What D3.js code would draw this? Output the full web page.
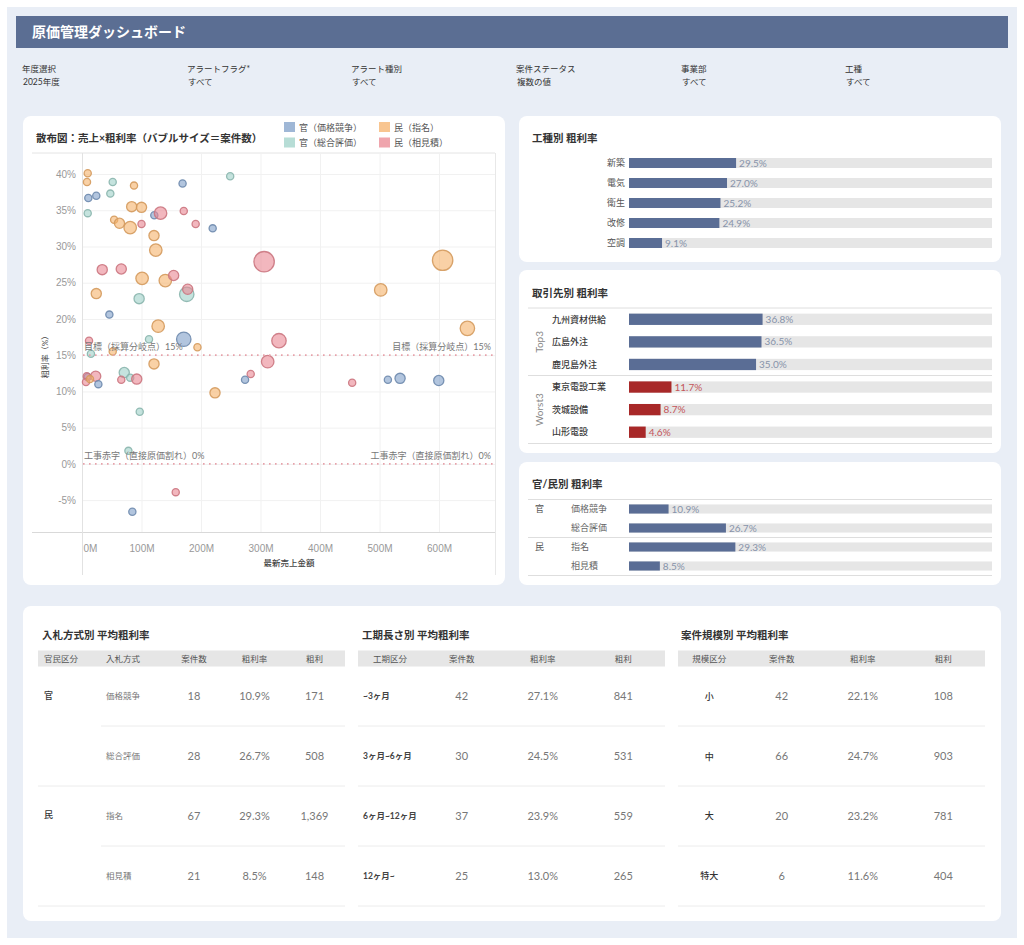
<!DOCTYPE html>
<html><head><meta charset="utf-8">
<script src="https://cdn.jsdelivr.net/npm/d3@7"></script>
<style>
body{margin:0;background:#fff;}
svg{display:block;font-family:Lato,"Noto Sans CJK JP",sans-serif;}
</style></head><body>
<svg id="c" width="1024" height="945"></svg>
<script>
// ---------- DATA ----------
const dashboardTitle = '原価管理ダッシュボード';
const filterLabels = ['年度選択','アラートフラグ*','アラート種別','案件ステータス','事業部','工種'];
const filterValues = ['2025年度','すべて','すべて','複数の値','すべて','すべて'];

const segments = ['官（価格競争）','官（総合評価）','民（指名）','民（相見積）'];
const segColors = ['#7f9fc8','#9fd1c8','#f5b26b','#ea8792'];
const salesM =    [9.6,8.4,51.6,87.4,169,249,10.6,24,47.6,9.6,83.5,100,121.5,132,171,54,63,81,100,191,219.6,121,124,306,34,66,101,140,154,176,177.6,24,96,46,128,112.6,171,331,194,11.8,15,51.6,121,312,283.5,274,9.6,8,23,6.7,13.4,27.5,71,81,66,92,223.5,97,78,157.5,84.6,454,514,534.5,599.5,606,502,647.6];
const marginPct = [40.1,38.9,38.9,38.4,38.7,39.7,36.7,37.0,37.3,34.6,35.5,35.4,34.3,34.6,34.9,33.7,33.2,32.6,33.1,33.1,32.5,31.5,29.5,27.9,26.8,26.9,25.6,25.3,26.0,23.4,24.1,23.5,22.8,20.6,19.0,17.2,17.2,17.0,16.1,17.0,15.2,15.5,13.8,14.1,12.4,11.6,12.0,12.1,12.1,11.3,11.7,11.0,12.6,11.9,11.6,11.7,9.8,7.2,1.8,-3.9,-6.6,11.2,11.6,11.8,11.5,28.1,24.0,18.7];
const segIdx =    [2,2,1,2,0,1,0,0,1,1,2,2,0,3,3,2,2,2,3,3,0,2,2,3,3,3,2,2,3,1,3,2,1,0,2,1,0,3,2,3,1,2,2,3,3,0,0,3,3,3,2,0,1,1,3,3,2,1,1,3,0,3,0,0,0,2,2,2];
const caseCounts= [1,1,1,1,1,1,1,1,1,1,2,2,1,3,1,1,2,3,1,1,1,2,3,8,2,2,3,3,2,4,2,2,2,1,3,1,4,4,1,1,1,1,2,3,1,1,1,1,2,1,1,1,2,1,1,2,2,1,1,1,1,1,1,2,2,8,3,4];
const xTicks = [0,100,200,300,400,500,600];
const yTicks = [-5,0,5,10,15,20,25,30,35,40];
const refValues = [15,0];
const refLabels = ['目標（採算分岐点）','工事赤字（直接原価割れ）'];

const workTypes = ['新築','電気','衛生','改修','空調'];
const workRates = [29.5,27.0,25.2,24.9,9.1];

const partnerGroups = ['Top3','Worst3'];
const partnerNames = ['九州資材供給','広島外注','鹿児島外注','東京電設工業','茨城設備','山形電設'];
const partnerRates = [36.8,36.5,35.0,11.7,8.7,4.6];
const partnerGroupIdx = [0,0,0,1,1,1];

const sectorGroups = ['官','民'];
const bidMethods = ['価格競争','総合評価','指名','相見積'];
const bidRates = [10.9,26.7,29.3,8.5];
const bidGroupIdx = [0,0,1,1];
const bidCounts = [18,28,67,21];
const bidProfit = [171,508,1369,148];

const periodLabels = ['~3ヶ月','3ヶ月~6ヶ月','6ヶ月~12ヶ月','12ヶ月~'];
const periodCounts = [42,30,37,25];
const periodRates = [27.1,24.5,23.9,13.0];
const periodProfit = [841,531,559,265];

const sizeLabels = ['小','中','大','特大'];
const sizeCounts = [42,66,20,6];
const sizeRates = [22.1,24.7,23.2,11.6];
const sizeProfit = [108,903,781,404];

const table1Headers = ['官民区分','入札方式','案件数','粗利率','粗利'];
const table2Headers = ['工期区分','案件数','粗利率','粗利'];
const table3Headers = ['規模区分','案件数','粗利率','粗利'];

// ---------- DRAW ----------
const svg = d3.select('#c');
const fmtPct = d => d.toFixed(1) + '%';
const fmtNum = d3.format(',');

svg.append('rect').attr('x',7).attr('y',7).attr('width',1010).attr('height',931).attr('fill','#e9eef6');
svg.append('rect').attr('x',16).attr('y',16).attr('width',992).attr('height',32).attr('fill','#5b6e93');
svg.append('text').attr('x',32).attr('y',37).attr('fill','#fff').attr('font-size',14).attr('font-weight',700).text(dashboardTitle);

const fx = [22,187,351,516,681,845];
filterLabels.forEach((l,i)=>{
  svg.append('text').attr('x',fx[i]).attr('y',72).attr('font-size',8.5).attr('fill','#333').text(l);
  svg.append('text').attr('x',fx[i]+1).attr('y',85).attr('font-size',8.5).attr('fill','#333').text(filterValues[i]);
});

// panels
const panels = [[23,116,482,469],[519,116,482,146],[519,270,482,183],[519,462,482,123],[23,606,978,315]];
panels.forEach(p=>svg.append('rect').attr('x',p[0]).attr('y',p[1]).attr('width',p[2]).attr('height',p[3]).attr('rx',8).attr('fill','#fff'));

// ---------- SCATTER ----------
const sg = svg.append('g');
sg.append('text').attr('x',36).attr('y',142).attr('font-size',10.5).attr('font-weight',700).attr('fill','#333')
  .text('散布図：売上×粗利率（バブルサイズ＝案件数）');
segments.forEach((s,i)=>{
  const lx = i<2 ? 284 : 379, ly = i%2===0 ? 122 : 137.5;
  sg.append('rect').attr('x',lx).attr('y',ly).attr('width',11).attr('height',10).attr('fill',segColors[i]).attr('opacity',0.75);
  sg.append('text').attr('x',lx+15).attr('y',ly+8.5).attr('font-size',9).attr('fill','#555').text(s);
});

const x = d3.scaleLinear().domain([0,694]).range([82,495]);
const y = d3.scaleLinear().domain([-9.4,42.9]).range([532,153]);
const r = d3.scaleSqrt().domain([0,8]).range([0,10.2]);

sg.append('line').attr('x1',32).attr('x2',495).attr('y1',153).attr('y2',153).attr('stroke','#e4e4e4');
sg.append('g').attr('transform','translate(0,532)')
  .call(d3.axisBottom(x).tickValues(xTicks).tickSize(-379).tickFormat(''))
  .call(g=>{g.select('.domain').remove(); g.selectAll('line').attr('stroke','#f1f1f1');});
sg.append('g').attr('transform','translate(82,0)')
  .call(d3.axisLeft(y).tickValues(yTicks).tickSize(-413).tickFormat(''))
  .call(g=>{g.select('.domain').remove(); g.selectAll('line').attr('stroke','#f1f1f1');});
sg.append('line').attr('x1',32).attr('x2',495).attr('y1',532.5).attr('y2',532.5).attr('stroke','#d9d9d9');
sg.append('line').attr('x1',82.5).attr('x2',82.5).attr('y1',153).attr('y2',575).attr('stroke','#e2e2e2');
sg.append('line').attr('x1',495.5).attr('x2',495.5).attr('y1',153).attr('y2',575).attr('stroke','#e8e8e8');

const xa = sg.append('g').attr('transform','translate(0,545)')
  .call(d3.axisBottom(x).tickValues(xTicks).tickSize(0).tickFormat(d=>d+'M'))
  .call(g=>{g.select('.domain').remove(); g.selectAll('text').attr('font-size',10).attr('fill','#999').attr('font-family',null).attr('dy','0.35em');});
xa.selectAll('.tick').filter(d=>d===0).select('text').attr('text-anchor','start').attr('x',1);
sg.append('g').attr('transform','translate(76,0)')
  .call(d3.axisLeft(y).tickValues(yTicks).tickSize(0).tickPadding(0).tickFormat(d=>d+'%'))
  .call(g=>{g.select('.domain').remove(); g.selectAll('text').attr('font-size',10).attr('fill','#999').attr('font-family',null);});
sg.append('text').attr('transform','translate(48,355) rotate(-90)').attr('text-anchor','middle').attr('font-size',8).attr('fill','#444').text('粗利率（%）');
sg.append('text').attr('x',289).attr('y',566).attr('text-anchor','middle').attr('font-size',8.5).attr('font-weight',500).attr('fill','#444').text('最新売上金額');

const pts = salesM.map((v,i)=>({v, p:marginPct[i], s:segIdx[i], n:caseCounts[i]}));
sg.append('g').selectAll('circle').data(pts).join('circle')
  .attr('cx',d=>x(d.v)).attr('cy',d=>y(d.p)).attr('r',d=>r(d.n))
  .attr('fill',d=>segColors[d.s]).attr('fill-opacity',0.6)
  .attr('stroke',d=>d3.color(segColors[d.s]).darker(0.4)).attr('stroke-opacity',0.9).attr('stroke-width',1.3);

refValues.forEach((rv,i)=>{
  sg.append('line').attr('x1',83).attr('x2',495).attr('y1',y(rv)).attr('y2',y(rv))
    .attr('stroke','#e7a2aa').attr('stroke-width',1.8).attr('stroke-dasharray','1.6,4.4');
  const t = refLabels[i] + rv + '%';
  sg.append('text').attr('x',84).attr('y',y(rv)-5).attr('font-size',9).attr('fill','#777').text(t);
  sg.append('text').attr('x',491).attr('y',y(rv)-5).attr('text-anchor','end').attr('font-size',9).attr('fill','#777').text(t);
});

// ---------- BAR PANELS ----------
const bx = d3.scaleLinear().domain([0,100]).range([629,992]);
function band(domain, range, p){
  return d3.scaleBand().domain(domain).range(range).paddingInner(p).paddingOuter(p/2);
}
function bars(g, names, vals, b, colorFn, labelColorFn){
  g.selectAll('rect.bg').data(names).join('rect').attr('class','bg')
    .attr('x',bx(0)).attr('width',bx(100)-bx(0)).attr('y',d=>b(d)).attr('height',b.bandwidth()).attr('fill','#e6e6e6');
  g.selectAll('rect.v').data(names).join('rect').attr('class','v')
    .attr('x',bx(0)).attr('width',(d,i)=>bx(vals[i])-bx(0)).attr('y',d=>b(d)).attr('height',b.bandwidth()).attr('fill',(d,i)=>colorFn(i));
  g.selectAll('text.val').data(names).join('text').attr('class','val')
    .attr('x',(d,i)=>bx(vals[i])+3).attr('y',d=>b(d)+b.bandwidth()/2).attr('dy','0.36em')
    .attr('font-size',10).attr('fill',(d,i)=>labelColorFn(i)).text((d,i)=>fmtPct(vals[i]));
}
const blue = '#5a6d95', red = '#a82828';

const p1 = svg.append('g');
p1.append('text').attr('x',532).attr('y',142).attr('font-size',10.5).attr('font-weight',700).attr('fill','#333').text('工種別 粗利率');
const b1 = band(workTypes,[153,253],0.5);
bars(p1, workTypes, workRates, b1, ()=>blue, ()=>'#8793aa');
p1.selectAll('text.lab').data(workTypes).join('text').attr('class','lab')
  .attr('x',625).attr('y',d=>b1(d)+b1.bandwidth()/2).attr('dy','0.36em').attr('text-anchor','end')
  .attr('font-size',9).attr('fill','#555').text(d=>d);

const p2 = svg.append('g');
p2.append('text').attr('x',532).attr('y',297).attr('font-size',10.5).attr('font-weight',700).attr('fill','#333').text('取引先別 粗利率');
const b2 = band(partnerNames,[308,443.5],0.5);
[308,375.5,443.5].forEach(ly=>p2.append('line').attr('x1',528).attr('x2',992).attr('y1',ly).attr('y2',ly).attr('stroke','#dedede'));
bars(p2, partnerNames, partnerRates, b2, i=>partnerGroupIdx[i]?red:blue, i=>partnerGroupIdx[i]?'#c4555a':'#8793aa');
p2.selectAll('text.lab').data(partnerNames).join('text').attr('class','lab')
  .attr('x',552).attr('y',d=>b2(d)+b2.bandwidth()/2).attr('dy','0.36em')
  .attr('font-size',9).attr('font-weight',500).attr('fill','#3a3a3a').text(d=>d);
partnerGroups.forEach((gname,gi)=>{
  const members = partnerNames.filter((d,i)=>partnerGroupIdx[i]===gi);
  const cy = (b2(members[0]) + b2(members[members.length-1]) + b2.bandwidth())/2;
  p2.append('text').attr('transform',`translate(543,${cy}) rotate(-90)`).attr('text-anchor','middle')
    .attr('font-size',10).attr('fill','#888').text(gname);
});

const p3 = svg.append('g');
p3.append('text').attr('x',532).attr('y',488).attr('font-size',10.5).attr('font-weight',700).attr('fill','#333').text('官/民別 粗利率');
const b3 = band(bidMethods,[499.5,575.5],0.52);
[499.5,537.5,575.5].forEach(ly=>p3.append('line').attr('x1',528).attr('x2',992).attr('y1',ly).attr('y2',ly).attr('stroke','#dedede'));
bars(p3, bidMethods, bidRates, b3, ()=>blue, ()=>'#8793aa');
p3.selectAll('text.lab').data(bidMethods).join('text').attr('class','lab')
  .attr('x',571).attr('y',d=>b3(d)+b3.bandwidth()/2).attr('dy','0.36em')
  .attr('font-size',9).attr('fill','#666').text(d=>d);
sectorGroups.forEach((gname,gi)=>{
  const first = bidMethods.find((d,i)=>bidGroupIdx[i]===gi);
  p3.append('text').attr('x',535).attr('y',b3(first)+b3.bandwidth()/2).attr('dy','0.36em')
    .attr('font-size',9).attr('fill','#555').text(gname);
});

// ---------- TABLES ----------
const rowBand = d3.scaleBand().domain([0,1,2,3]).range([666.5,906]);
function tableFrame(title, tx, x0, x1, headers, hx){
  const g = svg.append('g');
  g.append('text').attr('x',tx).attr('y',639).attr('font-size',10.5).attr('font-weight',700).attr('fill','#333').text(title);
  g.append('rect').attr('x',x0).attr('y',650.5).attr('width',x1-x0).attr('height',16).attr('fill','#e6e6e6');
  headers.forEach((h,i)=>{
    g.append('text').attr('x',hx[i][0]).attr('y',661.5).attr('text-anchor',hx[i][1]).attr('font-size',8.5).attr('fill','#555').text(h);
  });
  return g;
}
function cells(g, vals, xs, fmt){
  g.append('g').selectAll('text').data(vals).join('text')
    .attr('x',xs).attr('y',(d,i)=>rowBand(i)+rowBand.bandwidth()/2).attr('dy','0.36em').attr('text-anchor','middle')
    .attr('font-size',11).attr('fill','#777').text(fmt);
}
const t1 = tableFrame('入札方式別 平均粗利率', 42, 38, 345, table1Headers,
  [[44,'start'],[106,'start'],[194,'middle'],[254.5,'middle'],[314.5,'middle']]);
[[101,726],[38,786],[101,846],[38,906]].forEach(s=>t1.append('line').attr('x1',s[0]).attr('x2',345).attr('y1',s[1]).attr('y2',s[1]).attr('stroke','#ececec'));
sectorGroups.forEach((gname,gi)=>{
  const idx = bidGroupIdx.indexOf(gi);
  t1.append('text').attr('x',44).attr('y',rowBand(idx)+rowBand.bandwidth()/2-1).attr('dy','0.36em').attr('font-size',9).attr('font-weight',500).attr('fill','#333').text(gname);
});
t1.append('g').selectAll('text').data(bidMethods).join('text')
  .attr('x',106).attr('y',(d,i)=>rowBand(i)+rowBand.bandwidth()/2).attr('dy','0.36em').attr('font-size',8.5).attr('fill','#777').text(d=>d);
cells(t1, bidCounts, 194, d=>d);
cells(t1, bidRates, 254.5, fmtPct);
cells(t1, bidProfit, 314.5, fmtNum);

const t2 = tableFrame('工期長さ別 平均粗利率', 362, 358, 665, table2Headers,
  [[390,'middle'],[461.7,'middle'],[542.7,'middle'],[623.3,'middle']]);
[726,786,846,906].forEach(ly=>t2.append('line').attr('x1',358).attr('x2',665).attr('y1',ly).attr('y2',ly).attr('stroke','#ececec'));
t2.append('g').selectAll('text').data(periodLabels).join('text')
  .attr('x',363).attr('y',(d,i)=>rowBand(i)+rowBand.bandwidth()/2).attr('dy','0.36em').attr('font-size',8.5).attr('font-weight',700).attr('fill','#444').text(d=>d);
cells(t2, periodCounts, 461.7, d=>d);
cells(t2, periodRates, 542.7, fmtPct);
cells(t2, periodProfit, 623.3, fmtNum);

const t3 = tableFrame('案件規模別 平均粗利率', 681, 678, 985, table3Headers,
  [[709.3,'middle'],[781.7,'middle'],[862.7,'middle'],[943.3,'middle']]);
[726,786,846,906].forEach(ly=>t3.append('line').attr('x1',678).attr('x2',985).attr('y1',ly).attr('y2',ly).attr('stroke','#ececec'));
t3.append('g').selectAll('text').data(sizeLabels).join('text')
  .attr('x',709.3).attr('y',(d,i)=>rowBand(i)+rowBand.bandwidth()/2).attr('dy','0.36em').attr('text-anchor','middle')
  .attr('font-size',9).attr('font-weight',500).attr('fill','#333').text(d=>d);
cells(t3, sizeCounts, 781.7, d=>d);
cells(t3, sizeRates, 862.7, fmtPct);
cells(t3, sizeProfit, 943.3, fmtNum);
</script>
</body></html>
